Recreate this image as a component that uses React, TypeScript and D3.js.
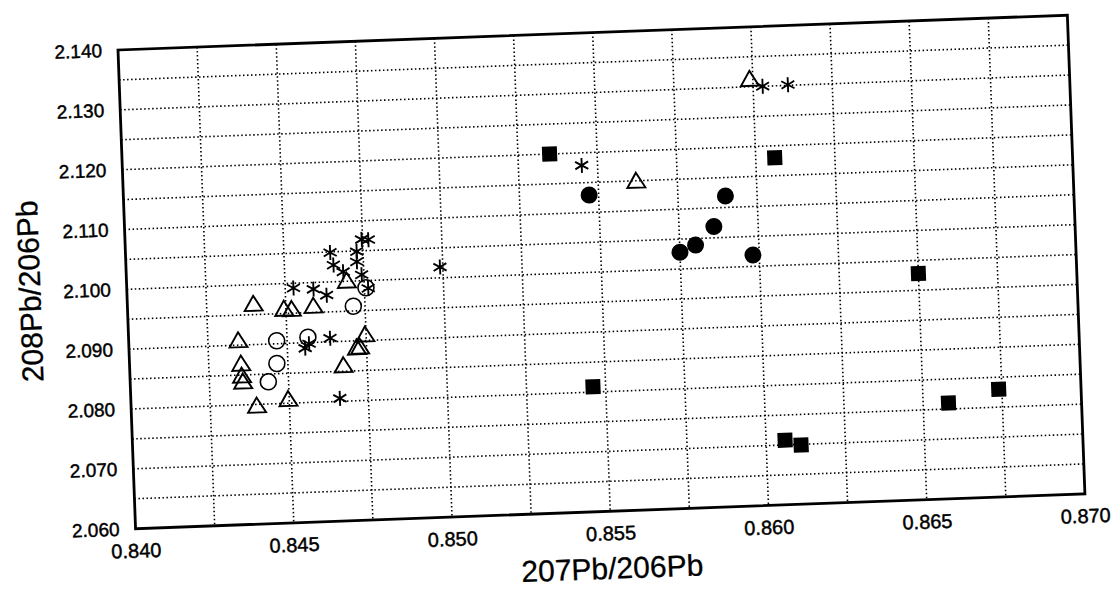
import React from "react";
import * as d3 from "d3";

// x: 207Pb/206Pb, y: 208Pb/206Pb
const openTriangles: [number, number][] = [
  [0.8599, 2.1314], [0.8562, 2.1151],
  [0.84695, 2.1002], [0.84398, 2.0969], [0.84494, 2.0959], [0.84518, 2.0958],
  [0.84587, 2.0962], [0.84346, 2.0909], [0.84747, 2.0911], [0.84719, 2.0890],
  [0.84729, 2.0891], [0.84352, 2.0870], [0.84353, 2.0850], [0.84356, 2.0840],
  [0.84675, 2.0861], [0.84397, 2.0799], [0.84497, 2.0808],
];

const asterisks: [number, number][] = [
  [0.8603, 2.1300], [0.8611, 2.1301], [0.8545, 2.1179],
  [0.84747, 2.1069], [0.84768, 2.1068], [0.84646, 2.1049], [0.8473, 2.1049],
  [0.84729, 2.1032], [0.84655, 2.1028], [0.84685, 2.1016], [0.84743, 2.1010],
  [0.84762, 2.0987], [0.84526, 2.0992], [0.84589, 2.0989], [0.8463, 2.0978],
  [0.84991, 2.1018], [0.84636, 2.0906], [0.84556, 2.0891], [0.84569, 2.0898],
  [0.8466, 2.0805],
];

const openCircles: [number, number][] = [
  [0.84755, 2.0988], [0.84713, 2.0958], [0.84467, 2.0905], [0.84566, 2.0909],
  [0.84465, 2.0867], [0.84436, 2.0837],
];

const filledCircles: [number, number][] = [
  [0.8547, 2.1129], [0.8590, 2.1119], [0.8586, 2.1069], [0.8580, 2.1039],
  [0.8575, 2.1028], [0.8598, 2.1019],
];

const filledSquares: [number, number][] = [
  [0.8535, 2.1200], [0.8606, 2.1180], [0.8650, 2.0978], [0.8546, 2.0809],
  [0.8606, 2.0708], [0.8611, 2.0699], [0.8658, 2.0760], [0.8674, 2.0780],
];

const xTicks = [0.84, 0.845, 0.85, 0.855, 0.86, 0.865, 0.87];
const yTicks = [2.06, 2.07, 2.08, 2.09, 2.1, 2.11, 2.12, 2.13, 2.14];
const xGrid = d3.range(1, 12).map((i) => 0.84 + i * 0.0025);
const yGrid = d3.range(1, 16).map((i) => 2.06 + i * 0.005);

const W = 950;
const H = 479;
const font = "'Liberation Sans', Arial, Helvetica, sans-serif";

export default function App() {
  const x = d3.scaleLinear().domain([0.84, 0.87]).range([0, W]);
  const y = d3.scaleLinear().domain([2.06, 2.14]).range([H, 0]);

  const tri = (cx: number, cy: number) => {
    const hw = 9, hh = 7.5;
    return `M${cx},${cy - hh}L${cx + hw},${cy + hh}L${cx - hw},${cy + hh}Z`;
  };
  const star = (cx: number, cy: number) => {
    const r = 7.5;
    return [90, 30, -30]
      .map((a) => {
        const t = (a * Math.PI) / 180;
        const dx = r * Math.cos(t), dy = r * Math.sin(t);
        return `M${cx - dx},${cy - dy}L${cx + dx},${cy + dy}`;
      })
      .join("");
  };

  const txt = { fontFamily: font, fill: "#000", stroke: "#000", strokeWidth: 0.45 };

  return (
    <svg width={1117} height={589} style={{ position: "absolute", left: 0, top: 0, background: "#fff" }}>
      <g transform="translate(118,50) rotate(-2.1)">
        {xGrid.map((v) => (
          <line key={"gx" + v} x1={x(v)} x2={x(v)} y1={0} y2={H}
            stroke="#000" strokeWidth={1.6} strokeDasharray="1.5 2.5" />
        ))}
        {yGrid.map((v) => (
          <line key={"gy" + v} x1={0} x2={W} y1={y(v)} y2={y(v)}
            stroke="#000" strokeWidth={1.6} strokeDasharray="1.5 2.5" />
        ))}

        {filledSquares.map((d, i) => (
          <rect key={"s" + i} x={x(d[0]) - 7.5} y={y(d[1]) - 7.5} width={15} height={15} fill="#000" />
        ))}
        {filledCircles.map((d, i) => (
          <circle key={"fc" + i} cx={x(d[0])} cy={y(d[1])} r={8.5} fill="#000" />
        ))}
        {openCircles.map((d, i) => (
          <circle key={"oc" + i} cx={x(d[0])} cy={y(d[1])} r={8} fill="none" stroke="#000" strokeWidth={1.6} />
        ))}
        {openTriangles.map((d, i) => (
          <path key={"t" + i} d={tri(x(d[0]), y(d[1]))} fill="none" stroke="#000" strokeWidth={1.9} strokeLinejoin="miter" />
        ))}
        {asterisks.map((d, i) => (
          <path key={"a" + i} d={star(x(d[0]), y(d[1]))} fill="none" stroke="#000" strokeWidth={1.9} />
        ))}

        <rect x={0} y={0} width={W} height={H} fill="none" stroke="#000" strokeWidth={2.8} />

        {xTicks.map((v) => (
          <text key={"xt" + v} x={x(v)} y={H + 22} textAnchor="middle" dominantBaseline="central"
            fontSize={20} {...txt}>
            {d3.format(".3f")(v)}
          </text>
        ))}
        {yTicks.map((v) => (
          <text key={"yt" + v} x={-16} y={y(v)} textAnchor="end" dominantBaseline="central"
            fontSize={19} {...txt}>
            {d3.format(".3f")(v)}
          </text>
        ))}

        <text x={W / 2} y={H + 57} textAnchor="middle" dominantBaseline="central"
          fontSize={30} {...txt} strokeWidth={0.3}>
          207Pb/206Pb
        </text>
        <text transform={`translate(-97,238) rotate(-90)`} textAnchor="middle" dominantBaseline="central"
          fontSize={30} {...txt} strokeWidth={0.3}>
          208Pb/206Pb
        </text>
      </g>
    </svg>
  );
}
